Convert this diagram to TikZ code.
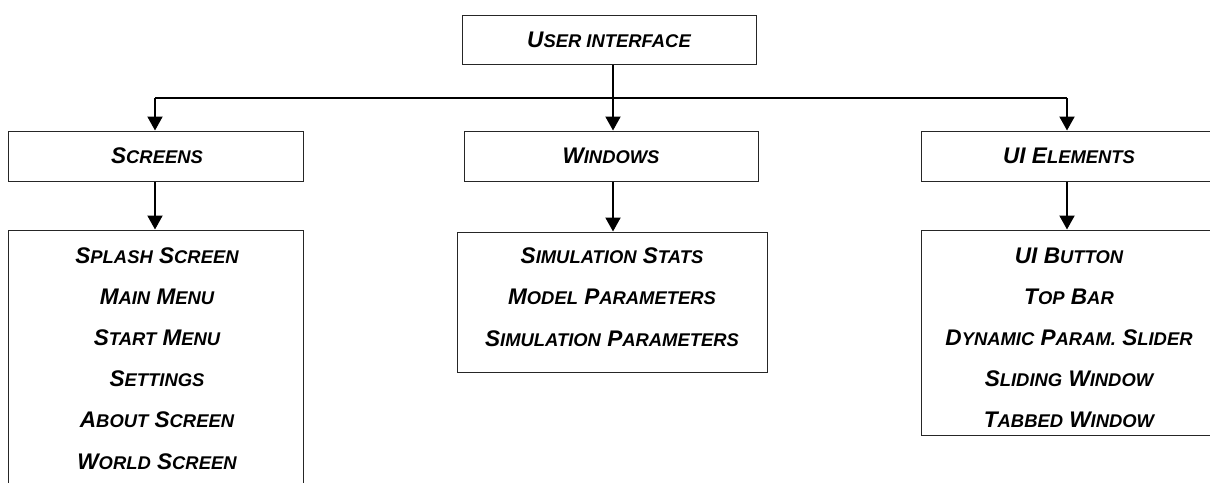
\documentclass[tikz,border=0pt]{standalone}
\usepackage{fontspec}
\setmainfont{Liberation Sans}
\usetikzlibrary{arrows.meta}
% reduced capitals for the small-caps look
\newcommand\sm[1]{{\fontsize{18.4}{18.4}\selectfont #1}}
\tikzset{
  box/.style={draw=black!85, line width=1pt, rectangle, inner sep=0pt},
  lbl/.style={font=\fontsize{22.6}{22.6}\selectfont\bfseries\itshape, anchor=base, inner sep=0pt},
  conn/.style={line width=2pt, black},
  arr/.style={conn, -{Triangle[width=15pt,length=14pt]}}
}
\begin{document}
\begin{tikzpicture}[x=1pt,y=-1pt]
\useasboundingbox (0,0) rectangle (1210,482);
\clip (0,0) rectangle (1210,482);

% boxes
\node[box, minimum width=294pt, minimum height=49pt] (ui) at (609,39.5) {};
\node[box, minimum width=295pt, minimum height=50pt] (scr) at (155.5,156) {};
\node[box, minimum width=294pt, minimum height=50pt] (win) at (611,156) {};
\node[box, minimum width=296pt, minimum height=50pt] (uie) at (1069,156) {};
\node[box, minimum width=295pt, minimum height=280pt] (scrl) at (155.5,370) {};
\node[box, minimum width=310pt, minimum height=140pt] (winl) at (612,302) {};
\node[box, minimum width=296pt, minimum height=205pt] (uiel) at (1069,332.5) {};

% box titles
\node[lbl] (t-ui) at (609,47) {U\sm{SER INTERFACE}};
\node[lbl] (t-scr) at (157,163) {S\sm{CREENS}};
\node[lbl] (t-win) at (611,163) {W\sm{INDOWS}};
\node[lbl] (t-uie) at (1069,163) {UI E\sm{LEMENTS}};

% list entries
\foreach \t [count=\i] in {S\sm{PLASH} S\sm{CREEN}, M\sm{AIN} M\sm{ENU}, S\sm{TART} M\sm{ENU},
    S\sm{ETTINGS}, A\sm{BOUT} S\sm{CREEN}, W\sm{ORLD} S\sm{CREEN}}
  \node[lbl] (s-\i) at (157,{263+41.2*(\i-1)}) {\t};
\foreach \t [count=\i] in {S\sm{IMULATION} S\sm{TATS}, M\sm{ODEL} P\sm{ARAMETERS},
    S\sm{IMULATION} P\sm{ARAMETERS}}
  \node[lbl] (w-\i) at (612,{263+41.5*(\i-1)}) {\t};
\foreach \t [count=\i] in {UI B\sm{UTTON}, T\sm{OP} B\sm{AR}, D\sm{YNAMIC} P\sm{ARAM.} S\sm{LIDER},
    S\sm{LIDING} W\sm{INDOW}, T\sm{ABBED} W\sm{INDOW}}
  \node[lbl] (e-\i) at (1069,{263+41.2*(\i-1)}) {\t};

% connectors
\coordinate (bus) at (613,98);
\coordinate (busL) at (155,98);
\coordinate (busR) at (1067,98);
\draw[conn] (ui.south -| bus) -- (bus);
\draw[conn] (busL) -- (busR);
\draw[arr] (busL) -- (busL |- scr.north);
\draw[arr] (bus) -- (bus |- win.north);
\draw[arr] (busR) -- (busR |- uie.north);
\draw[arr] (scr.south -| busL) -- (busL |- scrl.north);
\draw[arr] (win.south -| bus) -- (bus |- winl.north);
\draw[arr] (uie.south -| busR) -- (busR |- uiel.north);
\end{tikzpicture}
\end{document}
